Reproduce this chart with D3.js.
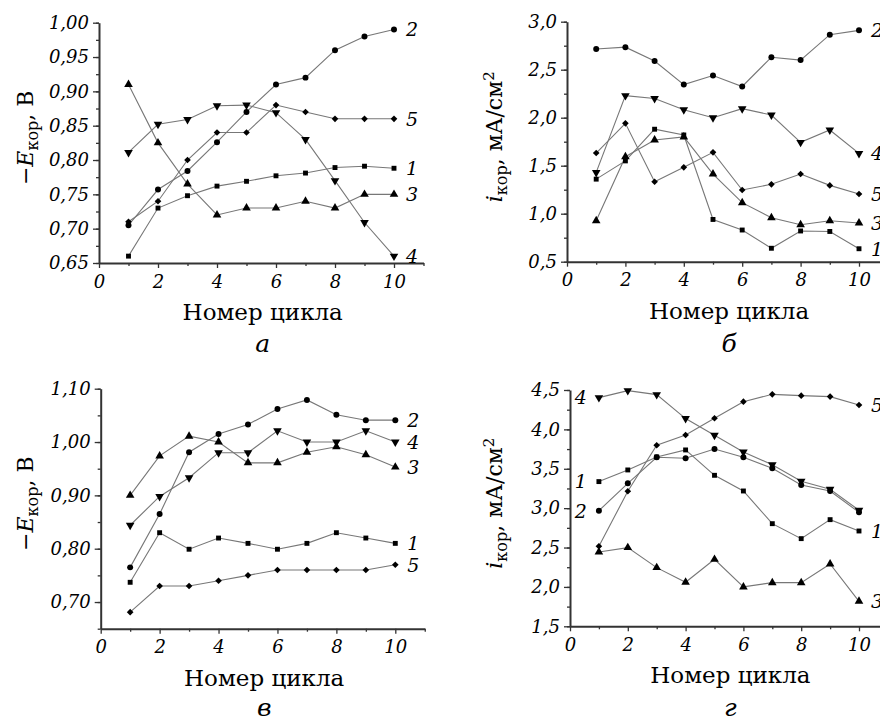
<!DOCTYPE html>
<html>
<head>
<meta charset="utf-8">
<script src="https://cdn.jsdelivr.net/npm/d3@7"></script>
<style>
	body { margin: 0; background: #fff; }
	svg { display: block; }
	text { font-family: 'DejaVu Serif', serif; fill: #000; }
</style>
</head>
<body>
<svg id="chart" width="880" height="724"></svg>
<script>
'use strict'

const cycles = [1, 2, 3, 4, 5, 6, 7, 8, 9, 10]
const xTicks = [0, 2, 4, 6, 8, 10]
const xMinorTicks = [1, 3, 5, 7, 9, 11]

// а: -E кор, В
const eA1 = [0.66, 0.73, 0.748, 0.762, 0.769, 0.777, 0.781, 0.789, 0.791, 0.788]
const eA2 = [0.705, 0.757, 0.784, 0.826, 0.87, 0.91, 0.92, 0.96, 0.98, 0.99]
const eA3 = [0.91, 0.825, 0.765, 0.72, 0.73, 0.73, 0.74, 0.73, 0.75, 0.75]
const eA4 = [0.811, 0.852, 0.859, 0.879, 0.88, 0.869, 0.83, 0.77, 0.709, 0.66]
const eA5 = [0.71, 0.74, 0.80, 0.84, 0.84, 0.88, 0.87, 0.86, 0.86, 0.86]
const yTicksA = [0.65, 0.70, 0.75, 0.80, 0.85, 0.90, 0.95, 1.00]

// б: i кор, мА/см2
const iB1 = [1.36, 1.55, 1.88, 1.82, 0.94, 0.83, 0.64, 0.82, 0.815, 0.635]
const iB2 = [2.715, 2.735, 2.59, 2.345, 2.44, 2.325, 2.63, 2.6, 2.865, 2.91]
const iB3 = [0.927, 1.594, 1.767, 1.8, 1.413, 1.115, 0.958, 0.885, 0.927, 0.903]
const iB4 = [1.43, 2.23, 2.2, 2.083, 2.0, 2.094, 2.028, 1.743, 1.872, 1.628]
const iB5 = [1.632, 1.941, 1.333, 1.483, 1.639, 1.247, 1.306, 1.413, 1.295, 1.205]
const yTicksB = [0.5, 1.0, 1.5, 2.0, 2.5, 3.0]

// в: -E кор, В
const eC1 = [0.737, 0.83, 0.799, 0.82, 0.81, 0.799, 0.81, 0.83, 0.82, 0.81]
const eC2 = [0.765, 0.865, 0.981, 1.015, 1.033, 1.062, 1.079, 1.051, 1.041, 1.041]
const eC3 = [0.90, 0.974, 1.011, 1.0, 0.961, 0.961, 0.981, 0.991, 0.976, 0.953]
const eC4 = [0.844, 0.898, 0.933, 0.98, 0.98, 1.021, 1.0, 1.0, 1.021, 1.0]
const eC5 = [0.681, 0.73, 0.73, 0.74, 0.75, 0.76, 0.76, 0.76, 0.76, 0.77]
const yTicksC = [0.70, 0.80, 0.90, 1.00, 1.10]

// г: i кор, мА/см2
const iD1 = [3.337, 3.485, 3.65, 3.739, 3.417, 3.218, 2.803, 2.613, 2.854, 2.71]
const iD2 = [2.968, 3.315, 3.646, 3.633, 3.751, 3.646, 3.506, 3.294, 3.218, 2.947]
const iD3 = [2.444, 2.499, 2.245, 2.059, 2.35, 2.0, 2.054, 2.054, 2.291, 1.817]
const iD4 = [4.403, 4.492, 4.441, 4.137, 3.925, 3.713, 3.552, 3.341, 3.239, 2.973]
const iD5 = [2.516, 3.214, 3.798, 3.929, 4.141, 4.352, 4.445, 4.428, 4.416, 4.31]
const yTicksD = [1.5, 2.0, 2.5, 3.0, 3.5, 4.0, 4.5]

const markers = {
	1: {type: d3.symbolSquare, size: 24, rotate: 0},
	2: {type: d3.symbolCircle, size: 28, rotate: 0},
	3: {type: d3.symbolTriangle, size: 32, rotate: 0},
	4: {type: d3.symbolTriangle, size: 32, rotate: 180},
	5: {type: d3.symbolSquare, size: 22, rotate: 45}
}

const comma = (digits) => (v) => v.toFixed(digits).replace('.', ',')

const panels = [
	{
		caption: 'а', yTitle: 'E', left: 99, bottom: 263, top: 22.7, unit: 29.5,
		yDomain: [0.65, 1.00], yTicks: yTicksA, yStep: 0.025, fmt: comma(2),
		series: [eA1, eA2, eA3, eA4, eA5],
		labels: [{n: 2, side: 'end'}, {n: 5, side: 'end'}, {n: 1, side: 'end'}, {n: 3, side: 'end'}, {n: 4, side: 'end'}],
		titleX: 33, captionY: 352
	},
	{
		caption: 'б', yTitle: 'i', left: 567, bottom: 261.7, top: 21.7, unit: 29.2,
		yDomain: [0.5, 3.0], yTicks: yTicksB, yStep: 0.25, fmt: comma(1),
		series: [iB1, iB2, iB3, iB4, iB5],
		labels: [{n: 2, side: 'end'}, {n: 4, side: 'end'}, {n: 5, side: 'end'}, {n: 3, side: 'end'}, {n: 1, side: 'end'}],
		titleX: 502, captionY: 352
	},
	{
		caption: 'в', yTitle: 'E', left: 100.7, bottom: 628.7, top: 388.7, unit: 29.46,
		yDomain: [0.65, 1.10], yTicks: yTicksC, yStep: 0.05, fmt: comma(2),
		series: [eC1, eC2, eC3, eC4, eC5],
		labels: [{n: 2, side: 'end'}, {n: 4, side: 'end'}, {n: 3, side: 'end'}, {n: 1, side: 'end'}, {n: 5, side: 'end'}],
		titleX: 33, captionY: 716
	},
	{
		caption: 'г', yTitle: 'i', left: 570, bottom: 626.3, top: 390, unit: 28.9,
		yDomain: [1.5, 4.5], yTicks: yTicksD, yStep: 0.25, fmt: comma(1),
		series: [iD1, iD2, iD3, iD4, iD5],
		labels: [{n: 4, side: 'start'}, {n: 1, side: 'start'}, {n: 2, side: 'start'}, {n: 5, side: 'end'}, {n: 1, side: 'end'}, {n: 3, side: 'end'}],
		titleX: 502, captionY: 716
	}
]

const svg = d3.select('#chart')

function drawPanel(p) {
	const x = d3.scaleLinear().domain([0, 11]).range([p.left, p.left + 11 * p.unit])
	const y = d3.scaleLinear().domain(p.yDomain).range([p.bottom, p.top])
	const g = svg.append('g').attr('class', 'panel')

	// minor ticks
	const yMinor = d3.range(p.yDomain[0], p.yDomain[1] + 1e-9, p.yStep)
	g.append('g')
		.attr('transform', `translate(${p.left},0)`)
		.call(d3.axisLeft(y).tickValues(yMinor).tickSize(3).tickSizeOuter(0).tickFormat(''))
		.call((a) => a.select('.domain').remove())
	g.append('g')
		.attr('transform', `translate(0,${p.bottom})`)
		.call(d3.axisBottom(x).tickValues(xMinorTicks).tickSize(3).tickSizeOuter(0).tickFormat(''))
		.call((a) => a.select('.domain').remove())

	// major ticks + labels
	const yAxis = g.append('g')
		.attr('transform', `translate(${p.left},0)`)
		.call(d3.axisLeft(y).tickValues(p.yTicks).tickSize(6).tickSizeOuter(0).tickFormat(p.fmt).tickPadding(4))
	const xAxis = g.append('g')
		.attr('transform', `translate(0,${p.bottom})`)
		.call(d3.axisBottom(x).tickValues(xTicks).tickSize(5).tickSizeOuter(0).tickFormat(d3.format('d')).tickPadding(7))

	g.selectAll('.tick line').attr('stroke', '#333').attr('stroke-width', 1.3)
	g.selectAll('.domain').attr('stroke', '#333').attr('stroke-width', 2)
	yAxis.selectAll('text')
		.attr('font-family', 'DejaVu Serif').attr('font-style', 'italic')
		.attr('font-size', 18).attr('fill', '#000')
	xAxis.selectAll('text')
		.attr('font-family', 'DejaVu Serif').attr('font-style', 'italic')
		.attr('font-size', 18).attr('fill', '#000')

	// series
	const line = d3.line().x((d, i) => x(cycles[i])).y((d) => y(d))
	p.series.forEach((values) => {
		g.append('path')
			.attr('d', line(values))
			.attr('fill', 'none')
			.attr('stroke', '#777')
			.attr('stroke-width', 1.1)
	})
	p.series.forEach((values, s) => {
		const m = markers[s + 1]
		g.selectAll(null)
			.data(values)
			.enter()
			.append('path')
			.attr('d', d3.symbol().type(m.type).size(m.size))
			.attr('transform', (d, i) => `translate(${x(cycles[i])},${y(d)}) rotate(${m.rotate})`)
			.attr('fill', '#000')
	})

	// curve numbers
	p.labels.forEach((l) => {
		const values = p.series[l.n - 1]
		const atEnd = l.side === 'end'
		const v = atEnd ? values[values.length - 1] : values[0]
		const cx = atEnd ? x(10) + 12 : x(1) - 12
		g.append('text')
			.attr('x', cx)
			.attr('y', y(v))
			.attr('dy', '0.36em')
			.attr('text-anchor', atEnd ? 'start' : 'end')
			.attr('font-style', 'italic')
			.attr('font-size', 19)
			.text(l.n)
	})

	// x title
	const xMid = x(5.55)
	g.append('text')
		.attr('x', xMid)
		.attr('y', p.bottom + 57)
		.attr('text-anchor', 'middle')
		.attr('font-size', 23)
		.text('Номер цикла')

	// caption
	g.append('text')
		.attr('x', xMid)
		.attr('y', p.captionY)
		.attr('text-anchor', 'middle')
		.attr('font-style', 'italic')
		.attr('font-size', 25)
		.text(p.caption)

	// y title
	const yMid = (p.top + p.bottom) / 2
	const t = g.append('text')
		.attr('transform', `translate(${p.titleX},${yMid - 5}) rotate(-90)`)
		.attr('text-anchor', 'middle')
		.attr('font-size', 22)
	if (p.yTitle === 'E') {
		t.append('tspan').text('−')
		t.append('tspan').attr('font-style', 'italic').text('E')
		t.append('tspan').attr('font-size', 16).attr('dy', 5).text('кор')
		t.append('tspan').attr('dy', -5).text(', В')
	}
	else {
		t.append('tspan').attr('font-style', 'italic').text('i')
		t.append('tspan').attr('font-size', 16).attr('dy', 5).text('кор')
		t.append('tspan').attr('dy', -5).text(', мА/см')
		t.append('tspan').attr('font-size', 15).attr('dy', -8).text('2')
	}
}

panels.forEach(drawPanel)
</script>
</body>
</html>
